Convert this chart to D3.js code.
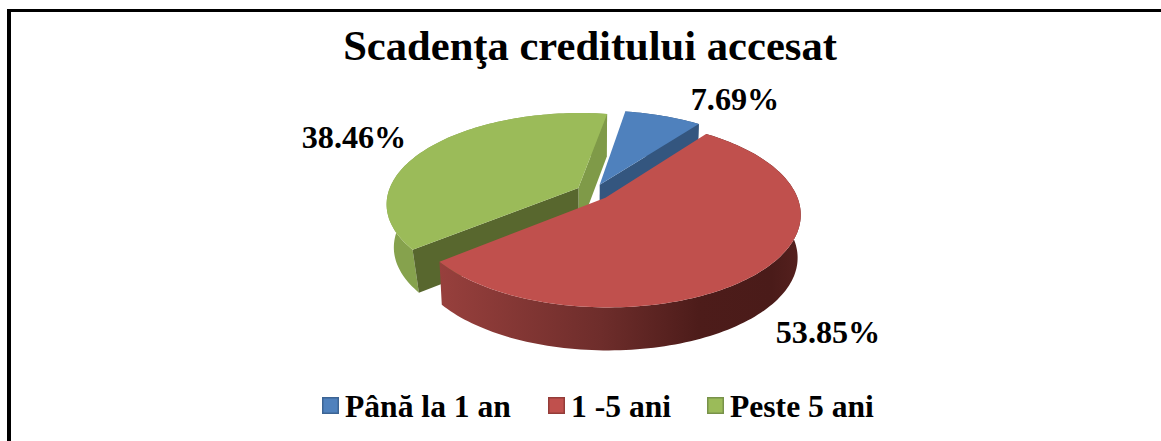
<!DOCTYPE html>
<html>
<head>
<meta charset="utf-8">
<script src="https://cdn.jsdelivr.net/npm/d3@7"></script>
<style>
  html, body { margin: 0; padding: 0; background: #fff; }
  text { font-family: "Liberation Serif", serif; font-weight: bold; fill: #000; }
</style>
</head>
<body>
<div id="chart"></div>
<script>
// data
const categories = ["Până la 1 an", "1 -5 ani", "Peste 5 ani"];
const shares = [7.69, 53.85, 38.46];
const shareLabels = ["7.69%", "53.85%", "38.46%"];
const topColors = ["#4f81bd", "#c0504d", "#9bbb59"];
const edgeColors = ["#3c6494", "#943c39", "#78924a"];

const width = 1161, height = 441;

const svg = d3.select("#chart")
  .append("svg")
  .attr("width", width)
  .attr("height", height)
  .style("display", "block");

// frame: only top and left lines are in the picture
svg.append("rect").attr("x", 7).attr("y", 9).attr("width", width - 7).attr("height", 3).attr("fill", "#000");
svg.append("rect").attr("x", 7).attr("y", 9).attr("width", 4).attr("height", height - 9).attr("fill", "#000");

svg.append("text")
  .attr("x", 590).attr("y", 60)
  .attr("text-anchor", "middle")
  .attr("font-size", 42.6)
  .text("Scadenţa creditului accesat");

// pie layout, first slice starts a bit right of 12 o'clock
const firstAngle = 9.5 * Math.PI / 180;
const pie = d3.pie().sort(null).value(d => d)
  .startAngle(firstAngle).endAngle(firstAngle + 2 * Math.PI);
const arcs = pie(shares);

// tilted disc: model coords u,v go to screen with a little perspective
const cx = 593, cy = 192, rx = 190, ry = 89, persp = 0.17;
const explode = 0.09, depth = 43;
// lower edge is narrower than the top; the green slice needs more of it
const lowerShrink = [0.985, 0.985, 0.965];

function project(u, v) {
  const w = 1 + persp * v;
  return [cx + rx * u / w, cy - ry * v / w];
}

function slicePoint(arc, angle, r) {
  const mid = (arc.startAngle + arc.endAngle) / 2;
  return project(
    explode * Math.sin(mid) + r * Math.sin(angle),
    explode * Math.cos(mid) + r * Math.cos(angle)
  );
}

function lower(p, i) {
  return [cx + (p[0] - cx) * lowerShrink[i], p[1] + depth];
}

function rim(arc) {
  const steps = Math.ceil((arc.endAngle - arc.startAngle) * 40);
  return d3.range(steps + 1).map(i =>
    slicePoint(arc, arc.startAngle + (arc.endAngle - arc.startAngle) * i / steps, 1));
}

const line = d3.line();
const closed = pts => line(pts) + "Z";

// gradients for the outer walls
const defs = svg.append("defs");
function wallGradient(id, stops) {
  const g = defs.append("linearGradient").attr("id", id)
    .attr("gradientUnits", "userSpaceOnUse")
    .attr("x1", 438).attr("x2", 800).attr("y1", 0).attr("y2", 0);
  stops.forEach(s => g.append("stop").attr("offset", s[0]).attr("stop-color", s[1]));
}
wallGradient("wall-red", [[0, "#98403d"], [0.45, "#6e2d2b"], [0.72, "#4d1c1a"], [0.92, "#4a1b19"], [1, "#55201e"]]);

const pieLayer = svg.append("g");

function drawWall(i, fill) {
  const pts = rim(arcs[i]);
  pieLayer.append("path")
    .attr("d", closed(pts.concat(pts.map(p => lower(p, i)).reverse())))
    .attr("fill", fill);
}

function drawFace(i, angle, fill) {
  const a = slicePoint(arcs[i], 0, 0), b = slicePoint(arcs[i], angle, 1);
  pieLayer.append("path")
    .attr("d", closed([a, b, lower(b, i), lower(a, i)]))
    .attr("fill", fill);
}

function drawTop(i) {
  pieLayer.append("path")
    .attr("d", closed([slicePoint(arcs[i], 0, 0)].concat(rim(arcs[i]))))
    .attr("fill", topColors[i]);
}

// painter's order: green, blue, then red in front
drawWall(2, "#86a24d");
drawFace(2, arcs[2].endAngle, "#7f9a48");
drawFace(2, arcs[2].startAngle, "#58672e");
drawTop(2);

drawWall(0, "#34567f");
drawFace(0, arcs[0].endAngle, "#34567f");
drawTop(0);

drawWall(1, "url(#wall-red)");
drawTop(1);

// value labels
const labelPos = [[735, 110], [828, 343], [354, 148]];
svg.selectAll(".value")
  .data(shareLabels)
  .enter()
  .append("text")
  .attr("class", "value")
  .attr("x", (d, i) => labelPos[i][0])
  .attr("y", (d, i) => labelPos[i][1])
  .attr("text-anchor", "middle")
  .attr("font-size", 32.2)
  .text(d => d);

// legend
const legendX = [322, 548, 707];
const legend = svg.selectAll(".legend")
  .data(categories)
  .enter()
  .append("g")
  .attr("class", "legend")
  .attr("transform", (d, i) => `translate(${legendX[i]},0)`);

legend.append("rect")
  .attr("x", 0.75).attr("y", 397.75)
  .attr("width", 15.5).attr("height", 15.5)
  .attr("fill", (d, i) => topColors[i])
  .attr("stroke", (d, i) => edgeColors[i])
  .attr("stroke-width", 1.5);

legend.append("text")
  .attr("x", 23).attr("y", 417)
  .attr("font-size", 31.6)
  .text(d => d);
</script>
</body>
</html>
